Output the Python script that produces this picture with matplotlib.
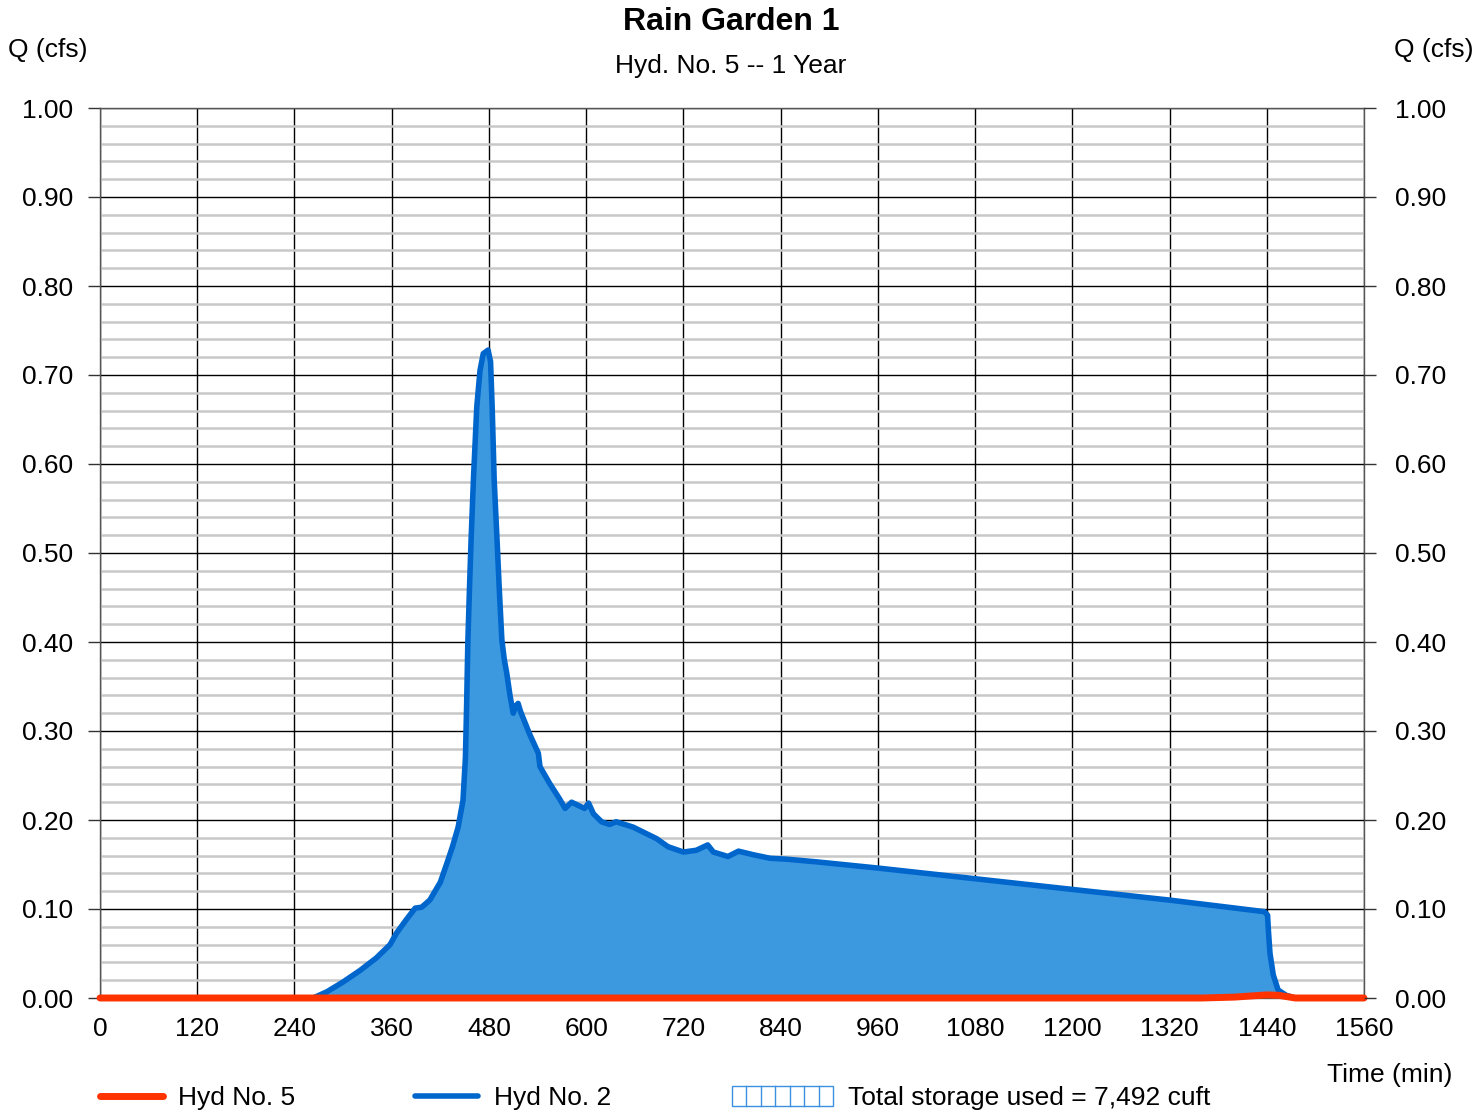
import matplotlib.pyplot as plt
import numpy as np
from matplotlib.patches import Rectangle
from matplotlib.lines import Line2D

plt.rcParams['font.family'] = ['Liberation Sans', 'DejaVu Sans']

# Hyd No. 2 (inflow), time in min, Q in cfs
t_in = [0, 263, 280, 300, 321, 341, 358, 366, 378, 389, 397, 407, 420, 428,
        435, 442, 448, 451, 452.5, 454, 456, 458, 461, 465, 469, 473, 479, 482,
        484, 486.5, 490, 493, 496, 499, 502, 506, 510, 513, 516, 519, 530, 541,
        543, 555, 567, 574, 582, 598, 603, 609, 619, 629, 637, 658, 687, 701,
        720, 736, 750, 757, 775, 788, 806, 827, 847, 884, 960, 1080, 1200, 1320,
        1437, 1441, 1442, 1444, 1448, 1454, 1464, 1475, 1560]
q_in = [0, 0, 0.007, 0.018, 0.031, 0.045, 0.06, 0.073, 0.088, 0.101, 0.102, 0.11,
        0.13, 0.151, 0.17, 0.192, 0.222, 0.27, 0.33, 0.40, 0.46, 0.515, 0.585,
        0.664, 0.705, 0.724, 0.728, 0.715, 0.664, 0.582, 0.515, 0.455, 0.402,
        0.38, 0.365, 0.34, 0.32, 0.328, 0.331, 0.322, 0.297, 0.275, 0.26, 0.241,
        0.224, 0.213, 0.22, 0.213, 0.219, 0.207, 0.198, 0.195, 0.198, 0.192,
        0.179, 0.17, 0.164, 0.166, 0.172, 0.164, 0.159, 0.165, 0.161, 0.157,
        0.156, 0.153, 0.146, 0.134, 0.122, 0.11, 0.097, 0.093, 0.076, 0.05,
        0.026, 0.009, 0.003, 0, 0]

# Hyd No. 5 (outflow)
t_out = [0, 1360, 1400, 1440, 1455, 1475, 1560]
q_out = [0, 0, 0.001, 0.0035, 0.003, 0, 0]

yticks = np.arange(0, 1.01, 0.1)
ylabels = ['%.2f' % v for v in yticks]
xticks = np.arange(0, 1561, 120)

fig = plt.figure(figsize=(14.75, 11.1), dpi=100)
ax = fig.add_axes([100/1475, 1 - 998/1110, 1264/1475, 890/1110])

ax.fill_between(t_in, q_in, 0, color='#3D99DF', lw=0, zorder=2)
ax.plot(t_in, q_in, color='#0066CC', lw=4, zorder=3,
        solid_joinstyle='round', solid_capstyle='round')
ax.plot(t_out, q_out, color='#FF3300', lw=5, zorder=4, clip_on=False,
        solid_capstyle='round')

ax.set_xlim(0, 1560)
ax.set_ylim(0, 1.0)
ax.set_xticks(xticks)
ax.set_yticks(yticks)
ax.set_yticklabels(ylabels)
ax.set_yticks(np.arange(0, 1.0, 0.02), minor=True)
ax.grid(which='minor', axis='y', color='#C8C8C8', lw=1.8, zorder=0)
ax.grid(which='major', color='black', lw=1, zorder=1)
ax.tick_params(axis='y', which='major', labelsize=19, length=8.6, width=1,
               direction='out', pad=10.8, color='#333333')
ax.tick_params(axis='x', which='major', labelsize=19, length=0, pad=14)
ax.tick_params(which='minor', length=0)
for s in ax.spines.values():
    s.set_color('#555555')
    s.set_linewidth(1)

ax2 = ax.twinx()
ax2.set_ylim(0, 1.0)
ax2.set_yticks(yticks)
ax2.set_yticklabels(ylabels)
ax2.tick_params(axis='y', labelsize=19, length=8.6, width=1, direction='out',
                pad=13.5, color='#333333')
for s in ax2.spines.values():
    s.set_visible(False)

fig.text(731/1475, 1 - 22/1110, 'Rain Garden 1', ha='center', va='center',
         fontsize=23, fontweight='bold')
fig.text(731/1475, 1 - 66/1110, 'Hyd. No. 5 -- 1 Year', ha='center', va='center',
         fontsize=19)
fig.text(8/1475, 1 - 50/1110, 'Q (cfs)', ha='left', va='center', fontsize=19)
fig.text(1473/1475, 1 - 50/1110, 'Q (cfs)', ha='right', va='center', fontsize=19)
fig.text(1452/1475, 1 - 1075/1110, 'Time (min)', ha='right', va='center', fontsize=19)

# legend
ly = 1 - 1096/1110
fig.add_artist(Line2D([100/1475, 163/1475], [ly, ly], color='#FF3300', lw=5,
                      solid_capstyle='round'))
fig.text(178/1475, ly - 1.5/1110, 'Hyd No. 5', ha='left', va='center', fontsize=19)
fig.add_artist(Line2D([415/1475, 478/1475], [ly, ly], color='#0066CC', lw=4,
                      solid_capstyle='round'))
fig.text(494/1475, ly - 1.5/1110, 'Hyd No. 2', ha='left', va='center', fontsize=19)
fig.add_artist(Rectangle((732/1475, 1 - 1106/1110), 101/1475, 20/1110,
                         fill=False, edgecolor='#3D8FE0', lw=1))
for xp in np.linspace(732, 833, 8)[1:-1]:
    fig.add_artist(Line2D([xp/1475, xp/1475], [1 - 1106/1110, 1 - 1086/1110],
                          color='#3D8FE0', lw=1))
fig.text(848/1475, ly - 1.5/1110, 'Total storage used = 7,492 cuft', ha='left',
         va='center', fontsize=19)

fig.savefig('out.png', dpi=100)
